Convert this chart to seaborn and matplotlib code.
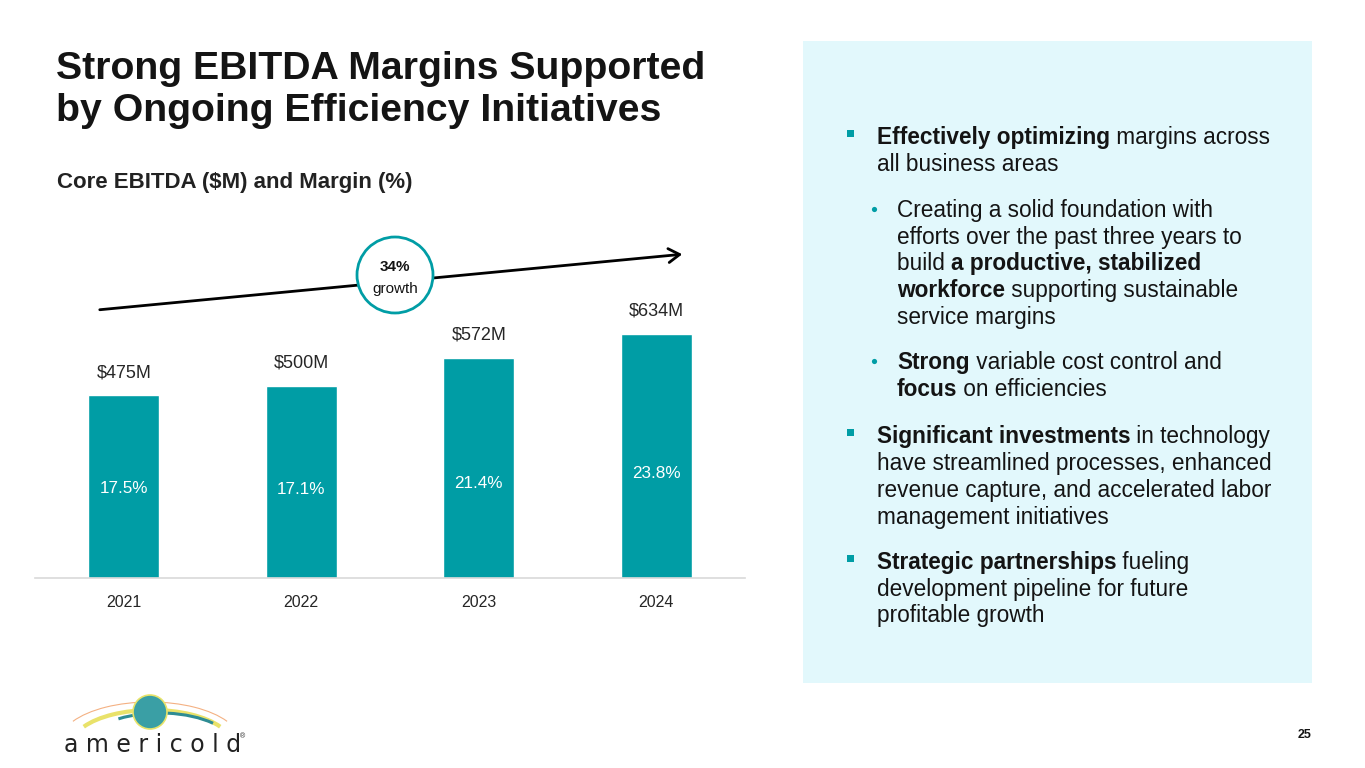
import matplotlib
matplotlib.use("Agg")
import matplotlib.pyplot as plt
import seaborn as sns
import pandas as pd
from matplotlib.patches import Rectangle, Circle, Arc, FancyArrowPatch

# ---------------- data ----------------
years = ["2021", "2022", "2023", "2024"]
ebitda = [475, 500, 572, 634]
ebitda_labels = ["$475M", "$500M", "$572M", "$634M"]
margins = ["17.5%", "17.1%", "21.4%", "23.8%"]

title_lines = ["Strong EBITDA Margins Supported", "by Ongoing Efficiency Initiatives"]
subtitle = "Core EBITDA ($M) and Margin (%)"
growth_pct = "34%"
growth_word = "growth"
page_no = "25"

# (kind, segments) ; kind: 'sq' square bullet, 'dot' round bullet, 'cont' continuation
bullets = [
    ("sq", [("Effectively optimizing", True), (" margins across", False)]),
    ("cont1", [("all business areas", False)]),
    ("dot", [("Creating a solid foundation with", False)]),
    ("cont2", [("efforts over the past three years to", False)]),
    ("cont2", [("build ", False), ("a productive, stabilized", True)]),
    ("cont2", [("workforce", True), (" supporting sustainable", False)]),
    ("cont2", [("service margins", False)]),
    ("dot", [("Strong", True), (" variable cost control and", False)]),
    ("cont2", [("focus", True), (" on efficiencies", False)]),
    ("sq", [("Significant investments", True), (" in technology", False)]),
    ("cont1", [("have streamlined processes, enhanced", False)]),
    ("cont1", [("revenue capture, and accelerated labor", False)]),
    ("cont1", [("management initiatives", False)]),
    ("sq", [("Strategic partnerships", True), (" fueling", False)]),
    ("cont1", [("development pipeline for future", False)]),
    ("cont1", [("profitable growth", False)]),
]
bullet_baselines = [144, 171, 217, 244, 270, 297, 324, 369, 396, 443, 470, 497, 524, 569, 596, 622]

# ---------------- style ----------------
TEAL = "#009DA5"
PANEL = "#E2F8FC"
TXT = "#141414"
FONT = ["Liberation Sans", "DejaVu Sans"]

sns.set_theme(style="white")
plt.rcParams["font.family"] = FONT

W, H = 1365, 768
fig = plt.figure(figsize=(W / 100, H / 100), dpi=100)
fig.patch.set_facecolor("white")

# ---------------- bar chart ----------------
ax_left, ax_right, ax_bottom, ax_top = 35, 745, 578, 240
ax = fig.add_axes([ax_left / W, (H - ax_bottom) / H,
                   (ax_right - ax_left) / W, (ax_bottom - ax_top) / H])
df = pd.DataFrame({"year": years, "ebitda": ebitda})
sns.barplot(data=df, x="year", y="ebitda", color=TEAL, width=0.4,
            saturation=1, ax=ax)
ax.set_xlim(-0.5, 3.5)
px_per_unit = 0.385
ax.set_ylim(0, (ax_bottom - ax_top) / px_per_unit)
ax.set_facecolor("none")
for s in ["left", "right", "top"]:
    ax.spines[s].set_visible(False)
ax.spines["bottom"].set_color("#D9D9D9")
ax.spines["bottom"].set_linewidth(1.2)
ax.set_yticks([])
ax.set_xlabel("")
ax.set_ylabel("")
ax.tick_params(axis="x", length=0, pad=12, labelsize=11.5, labelcolor="#262626")

pct_y_frac = [0.49, 0.46, 0.43, 0.43]
for i, (v, lab, m) in enumerate(zip(ebitda, ebitda_labels, margins)):
    ax.text(i, v + 14 / px_per_unit, lab, ha="center", va="bottom",
            fontsize=13, color="#262626")
    ax.text(i, v * pct_y_frac[i], m, ha="center", va="center",
            fontsize=12.3, color="white")

# ---------------- overlay (pixel coords) ----------------
ov = fig.add_axes([0, 0, 1, 1])
ov.set_xlim(0, W)
ov.set_ylim(H, 0)
ov.axis("off")
ov.set_zorder(-1)

# right panel
ov.add_patch(Rectangle((803, 41), 509, 642, facecolor=PANEL, edgecolor="none", zorder=0))

ov2 = fig.add_axes([0, 0, 1, 1])
ov2.set_xlim(0, W)
ov2.set_ylim(H, 0)
ov2.axis("off")
ov2.patch.set_visible(False)

# title / subtitle
ov2.text(56, 79, title_lines[0], fontsize=28.3, fontweight="bold", color=TXT, va="baseline")
ov2.text(56, 121, title_lines[1], fontsize=28.3, fontweight="bold", color=TXT, va="baseline")
ov2.text(57, 188, subtitle, fontsize=16, fontweight="bold", color="#222222", va="baseline")

# growth arrow & bubble
arr = FancyArrowPatch((97, 310), (685, 254), arrowstyle="->,head_length=8,head_width=5",
                      color="black", lw=2, mutation_scale=1, zorder=2)
ov2.add_patch(arr)
ov2.add_patch(Circle((395, 275), 38, facecolor="white", edgecolor=TEAL, lw=2, zorder=3))
ov2.text(395, 271, growth_pct, ha="center", va="baseline", fontsize=11,
         fontweight="bold", color=TXT, zorder=4)
ov2.text(395, 293, growth_word, ha="center", va="baseline", fontsize=11,
         color=TXT, zorder=4)

# bullets
fig.canvas.draw()
renderer = fig.canvas.get_renderer()
BSIZE = 16.3


def seg_width(text, bold):
    t1 = ov2.text(0, 0, "|" + text + "|", fontsize=BSIZE,
                  fontweight="bold" if bold else "normal")
    t2 = ov2.text(0, 0, "||", fontsize=BSIZE, fontweight="bold" if bold else "normal")
    w = t1.get_window_extent(renderer).width - t2.get_window_extent(renderer).width
    t1.remove()
    t2.remove()
    return w


for (kind, segs), yb in zip(bullets, bullet_baselines):
    if kind == "sq":
        ov2.add_patch(Rectangle((847, yb - 14), 7, 7, facecolor=TEAL, edgecolor="none"))
        x = 877
    elif kind == "cont1":
        x = 877
    elif kind == "dot":
        ov2.add_patch(Circle((874.5, yb - 7.5), 2.6, facecolor=TEAL, edgecolor="none"))
        x = 897
    else:
        x = 897
    for text, bold in segs:
        ov2.text(x, yb, text, fontsize=BSIZE, fontweight="bold" if bold else "normal",
                 color=TXT, va="baseline", ha="left")
        x += seg_width(text, bold)

# page number
ov2.text(1311, 738, page_no, fontsize=9, fontweight="bold", color=TXT, ha="right", va="baseline")

# logo (approximate)
ov2.add_patch(Arc((152, 745), 160, 70, theta1=195, theta2=345, color="#E9E26A", lw=3))
ov2.add_patch(Arc((150, 742), 180, 80, theta1=195, theta2=345, color="#F4B183", lw=0.8))
ov2.add_patch(Arc((160, 748), 150, 70, theta1=215, theta2=335, color="#2E8C94", lw=2.2))
ov2.add_patch(Circle((150, 712), 17, facecolor="#3A9FA5", edgecolor="#E8E36A", lw=1.2, zorder=5))
ov2.text(64, 752, "a m e r i c o l d", fontsize=17, color="#222222", va="baseline",
         ha="left", family=["DejaVu Sans"])
ov2.text(240, 738, "®", fontsize=5, color="#222222")

fig.savefig("out.png", dpi=100, facecolor="white")
